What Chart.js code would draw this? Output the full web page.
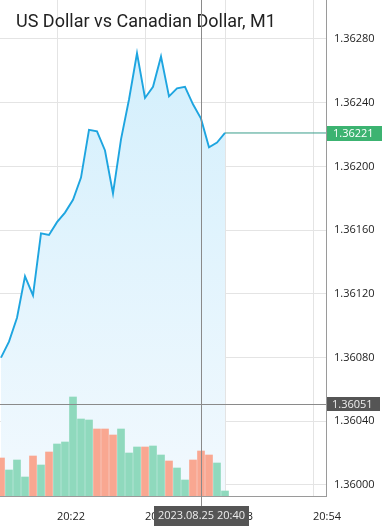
<!DOCTYPE html>
<html>
<head>
<meta charset="utf-8">
<script src="https://cdn.jsdelivr.net/npm/chart.js@4.4.0/dist/chart.umd.min.js"></script>
<style>
  html, body { margin: 0; padding: 0; background: #fff; }
  canvas { display: block; }
</style>
</head>
<body>
<canvas id="chart" width="384" height="531"></canvas>
<script>
// ===== Data (time = minutes after 20:00) =====
const minutes = [15, 16, 17, 18, 19, 20, 21, 22, 23, 24, 25, 26, 27, 28, 29,
                 30, 31, 32, 33, 34, 35, 36, 37, 38, 39, 40, 41, 42, 43];
const closes = [1.36080, 1.36090, 1.36105, 1.36131, 1.36119, 1.36158, 1.36157, 1.36165,
                1.36171, 1.36179, 1.36193, 1.36223, 1.36222, 1.36210, 1.36183, 1.36217,
                1.36242, 1.36271, 1.36243, 1.36250, 1.36269, 1.36244, 1.36249, 1.36250,
                1.36239, 1.36230, 1.36212, 1.36215, 1.36221];
const volumes = [38, 26, 36, 19, 40, 31, 44, 52, 54, 99, 77, 76, 67, 67, 61,
                 67, 43, 49, 49, 50, 41, 35, 28, 16, 36, 45, 41, 33, 5];
const candleDir = ['d', 'u', 'u', 'u', 'd', 'u', 'd', 'u', 'u', 'u', 'u', 'u', 'd', 'd', 'd',
                   'u', 'u', 'u', 'd', 'u', 'u', 'd', 'u', 'u', 'd', 'd', 'd', 'u', 'u'];
const priceTicks = [1.36000, 1.36040, 1.36080, 1.36120, 1.36160, 1.36200, 1.36240, 1.36280];
const timeTicks = [22, 33, 43, 54];

const title = 'US Dollar vs Canadian Dollar, M1';
const lastPrice = 1.36221;
const cursorPrice = 1.36051;
const cursorMinute = 40;
const cursorLabel = '2023.08.25 20:40';

// visible window
const xMin = 14.875, xMax = 55.625;
const yMin = 1.3599309, yMax = 1.3630448;

// ===== Colors =====
const colors = {
  line: '#1ea5e0',
  last: '#3a9d8a',
  up: '#8fd9bd',
  down: '#f9a791',
  grid: '#e4e4e4',
  border: '#9a9a9a',
  cross: '#8a8a8a',
  text: '#222222',
  badgeGreen: '#3cb371',
  badgeDark: '#555555',
};
const FONT = "'Open Sans', sans-serif";

// no label padding around the plot: it fills the canvas to the axes
function noPadding(s) {
  s.paddingTop = 0; s.paddingBottom = 0;
  s.paddingLeft = 0; s.paddingRight = 0;
}

// ===== Overlay: title, crosshair, axis badges =====
const overlay = {
  id: 'overlay',
  beforeDatasetsDraw(chart) {
    const c = chart.ctx;
    c.save();
    c.fillStyle = '#222';
    c.font = "18px Roboto, sans-serif";
    c.textBaseline = 'alphabetic';
    c.fillText(title, 16, 27);
    c.restore();
  },
  afterDraw(chart) {
    const c = chart.ctx;
    const a = chart.chartArea;
    const x = chart.scales.x, y = chart.scales.y;
    const cx = Math.round(x.getPixelForValue(cursorMinute)) + 0.5;
    const cy = Math.round(y.getPixelForValue(cursorPrice)) + 0.5;
    const ly = Math.round(y.getPixelForValue(lastPrice));

    c.save();
    c.strokeStyle = colors.cross;
    c.lineWidth = 1;
    c.beginPath();
    c.moveTo(a.left, cy); c.lineTo(a.right, cy);
    c.moveTo(cx, a.top); c.lineTo(cx, a.bottom + 10);
    c.stroke();

    c.font = '11px ' + FONT;
    c.textBaseline = 'middle';

    // last price badge
    c.fillStyle = colors.badgeGreen;
    c.fillRect(a.right + 1, ly - 7, 55, 15);
    c.fillStyle = '#fff';
    c.textAlign = 'left';
    c.fillText(lastPrice.toFixed(5), a.right + 7, ly + 1);

    // cursor price badge
    c.fillStyle = colors.badgeDark;
    c.fillRect(a.right + 1, cy - 7.5, 53, 14);
    c.fillStyle = '#eee';
    c.fillText(cursorPrice.toFixed(5), a.right + 6, cy);

    // cursor time badge
    const w = c.measureText(cursorLabel).width + 8;
    c.fillStyle = colors.badgeDark;
    c.fillRect(cx - w / 2, a.bottom + 10, w, 20);
    c.fillStyle = '#eee';
    c.textAlign = 'center';
    c.fillText(cursorLabel, cx, a.bottom + 20);
    c.restore();
  }
};

// ===== Chart =====
const ctx = document.getElementById('chart').getContext('2d');
new Chart(ctx, {
  data: {
    datasets: [
      {
        type: 'bar',
        yAxisID: 'v',
        data: minutes.map((m, i) => ({ x: m, y: volumes[i] })),
        backgroundColor: candleDir.map(d => d === 'u' ? colors.up : colors.down),
        barThickness: 7,
        order: 0,
      },
      {
        type: 'line',
        yAxisID: 'y',
        data: minutes.map((m, i) => ({ x: m, y: closes[i] })),
        borderColor: colors.line,
        borderWidth: 1.9,
        pointRadius: 0,
        tension: 0,
        fill: 'start',
        backgroundColor: (context) => {
          const area = context.chart.chartArea;
          if (!area) return 'rgba(215,240,252,0.8)';
          const g = context.chart.ctx.createLinearGradient(0, area.top, 0, area.bottom);
          g.addColorStop(0, 'rgb(208,238,252)');
          g.addColorStop(1, 'rgb(242,249,254)');
          return g;
        },
        order: 1,
      },
      {
        type: 'line',
        yAxisID: 'y',
        data: [{ x: minutes[minutes.length - 1], y: lastPrice }, { x: xMax, y: lastPrice }],
        borderColor: colors.last,
        borderWidth: 1,
        pointRadius: 0,
        fill: false,
        order: 2,
      }
    ]
  },
  options: {
    responsive: false,
    animation: false,
    layout: { padding: 0 },
    plugins: {
      legend: { display: false },
      tooltip: { enabled: false },
      title: { display: false },
    },
    scales: {
      x: {
        type: 'linear',
        offset: false,
        min: xMin,
        max: xMax,
        afterBuildTicks: s => { s.ticks = timeTicks.map(v => ({ value: v })); },
        afterFit: s => { s.height = 35; noPadding(s); },
        grid: { color: colors.grid, drawTicks: false, offset: false },
        border: { color: colors.border },
        ticks: {
          align: 'start',
          padding: 14,
          autoSkip: false,
          maxRotation: 0,
          color: colors.text,
          font: { family: FONT, size: 11 },
          callback: v => '20:' + String(v).padStart(2, '0'),
        }
      },
      y: {
        type: 'linear',
        position: 'right',
        min: yMin,
        max: yMax,
        afterBuildTicks: s => { s.ticks = priceTicks.map(v => ({ value: v })); },
        afterFit: s => { s.width = 58; noPadding(s); },
        grid: { color: colors.grid, drawTicks: false },
        border: { color: colors.border },
        ticks: {
          padding: 8,
          color: colors.text,
          font: { family: FONT, size: 11 },
          callback: v => v.toFixed(5),
        }
      },
      v: {
        type: 'linear',
        display: false,
        min: 0,
        max: 496,
      }
    }
  },
  plugins: [overlay]
});
</script>
</body>
</html>
